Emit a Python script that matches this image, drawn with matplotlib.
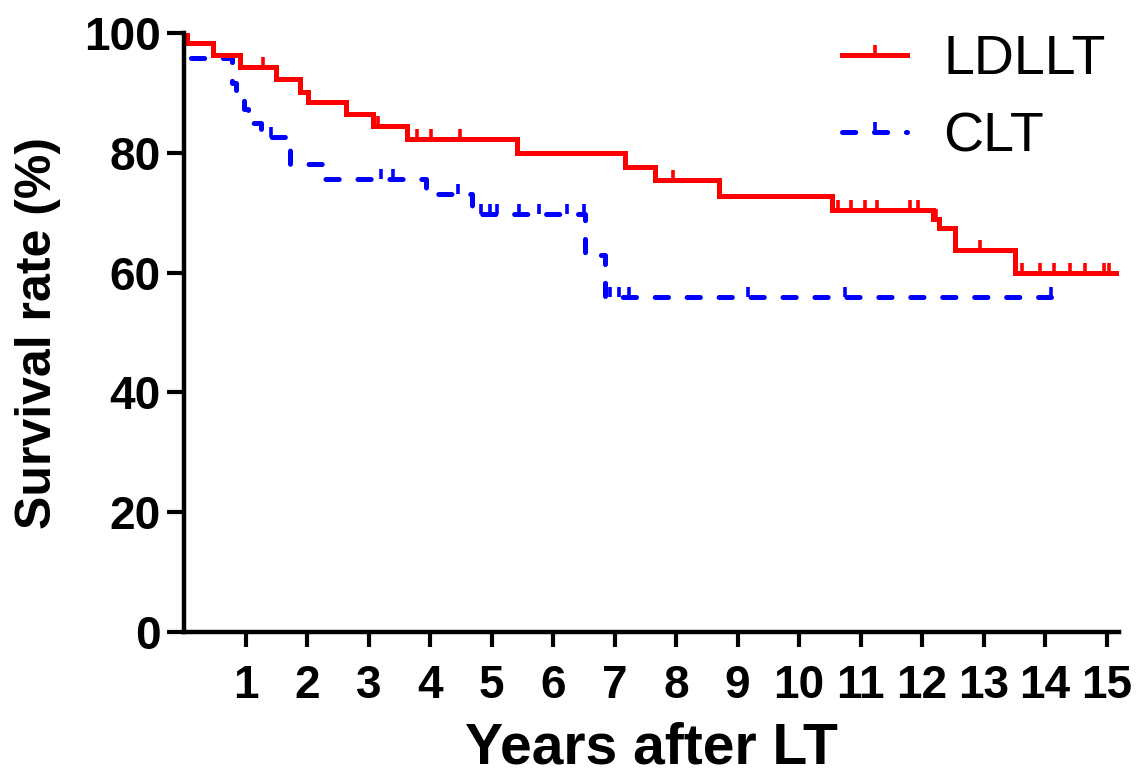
import numpy as np
import matplotlib
matplotlib.use("Agg")
import matplotlib.pyplot as plt
from matplotlib.lines import Line2D

plt.rcParams["font.family"] = ["Liberation Sans", "DejaVu Sans"]
plt.rcParams["lines.scale_dashes"] = False

# Kaplan-Meier steps (time in years, survival in %)
ldllt_t = [0, 0.05, 0.47, 0.91, 1.50, 1.88, 2.02, 2.64, 3.08, 3.62, 5.41,
           7.17, 7.66, 8.69, 10.53, 12.18, 12.28, 12.53, 13.51, 15.2]
ldllt_s = [100, 98.4, 96.3, 94.4, 92.3, 90.2, 88.5, 86.4, 84.4, 82.3, 79.9,
           77.7, 75.5, 72.8, 70.5, 68.9, 67.4, 63.8, 59.9, 59.9]
ldllt_cens = [1.29, 3.16, 3.78, 4.02, 4.48, 7.95, 10.64, 10.85, 11.07, 11.26,
              11.80, 11.94, 12.22, 12.94, 13.62, 13.91, 14.15, 14.40, 14.64,
              14.95, 15.03]

clt_t = [0, 0.04, 0.78, 0.85, 0.98, 1.04, 1.25, 1.72, 2.25, 3.94, 4.68,
         6.52, 6.84, 14.1]
clt_s = [100, 95.8, 91.7, 89.6, 87.3, 84.9, 82.7, 78.2, 75.7, 73.2, 69.8,
         62.9, 56.0, 56.0]
clt_cens = [1.42, 3.21, 3.40, 4.46, 4.82, 4.97, 5.08, 5.44, 5.77, 6.22, 6.51,
            6.92, 7.07, 7.23, 9.17, 10.74, 14.1]

x_ticks = list(range(1, 16))
y_ticks = [0, 20, 40, 60, 80, 100]


def surv_at(times, surv, t):
    idx = np.searchsorted(times, t, side="right") - 1
    return np.asarray(surv)[idx]


fig = plt.figure(figsize=(11.41, 7.81), dpi=100)
ax = fig.add_axes([0.1613, 0.1908, 0.8194, 0.7669])

lw = 3.6
dash = (0, (9.5, 13.5))
ax.step(ldllt_t, ldllt_s, where="post", color="#ff0000", lw=lw,
        solid_joinstyle="miter", zorder=3)
ax.plot(ldllt_cens, surv_at(ldllt_t, ldllt_s, ldllt_cens), ls="none",
        marker=2, ms=7, mew=2.6, color="#ff0000", zorder=3)

ax.step(clt_t, clt_s, where="post", color="#0000ff", lw=lw,
        linestyle=dash, dash_capstyle="round", zorder=2)
ax.plot(clt_cens, surv_at(clt_t, clt_s, clt_cens), ls="none",
        marker=2, ms=7, mew=2.6, color="#0000ff", zorder=2)

ax.set_xlim(0, 15.2)
ax.set_ylim(0, 100)
ax.set_xticks(x_ticks)
ax.set_yticks(y_ticks)
for side in ("top", "right"):
    ax.spines[side].set_visible(False)
for side in ("left", "bottom"):
    ax.spines[side].set_linewidth(3.2)
ax.spines["left"].set_zorder(4)
ax.tick_params(axis="y", length=12, width=3, pad=5, labelsize=33)
ax.tick_params(axis="x", length=11, width=3, pad=12, labelsize=33)
for lab in ax.get_xticklabels() + ax.get_yticklabels():
    lab.set_fontweight("bold")

ax.set_xlabel("Years after LT", fontsize=41, fontweight="bold", labelpad=10)
ax.set_ylabel("Survival rate (%)", fontsize=36, fontweight="bold", labelpad=16)

handles = [
    Line2D([], [], color="#ff0000", lw=lw, marker=2, ms=7, mew=2.6),
    Line2D([], [], color="#0000ff", lw=lw, linestyle=dash,
           dash_capstyle="round", marker=2, ms=7, mew=2.6),
]
fig.legend(handles, ["LDLLT", "CLT"], loc="upper left", frameon=False,
           fontsize=40, handlelength=1.17, handletextpad=0.65,
           labelspacing=0.45, borderpad=0, borderaxespad=0,
           bbox_to_anchor=(842 / 1141, 1 - 34 / 781))

fig.savefig("out.png", dpi=100)
